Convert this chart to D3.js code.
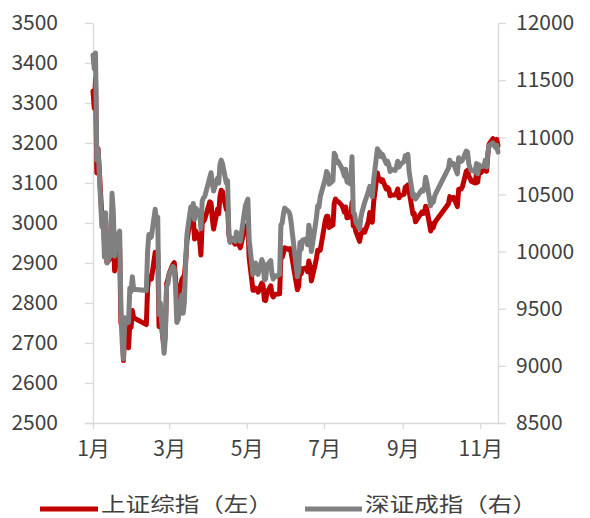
<!DOCTYPE html>
<html><head><meta charset="utf-8">
<script src="https://cdn.jsdelivr.net/npm/d3@7"></script>
<style>
html,body{margin:0;padding:0;background:#fff;}
svg text{font-family:"Noto Sans CJK SC","Liberation Sans",sans-serif;fill:#404040;}
</style></head>
<body><svg id="chart" width="590" height="518"></svg>
<script>
const dates = [
"01-04","01-05","01-06","01-07","01-08","01-11","01-12","01-13","01-14","01-15","01-18","01-19","01-20","01-21","01-22","01-25","01-26","01-27","01-28","01-29",
"02-01","02-02","02-03","02-04","02-05","02-15","02-16","02-17","02-18","02-19","02-22","02-23","02-24","02-25","02-26","02-29",
"03-01","03-02","03-03","03-04","03-07","03-08","03-09","03-10","03-11","03-14","03-15","03-16","03-17","03-18","03-21","03-22","03-23","03-24","03-25","03-28","03-29","03-30","03-31",
"04-01","04-05","04-06","04-07","04-08","04-11","04-12","04-13","04-14","04-15","04-18","04-19","04-20","04-21","04-22","04-25","04-26","04-27","04-28","04-29",
"05-03","05-04","05-05","05-06","05-09","05-10","05-11","05-12","05-13","05-16","05-17","05-18","05-19","05-20","05-23","05-24","05-25","05-26","05-27","05-30","05-31",
"06-01","06-02","06-03","06-06","06-07","06-08","06-13","06-14","06-15","06-16","06-17","06-20","06-21","06-22","06-23","06-24","06-27","06-28","06-29","06-30",
"07-01","07-04","07-05","07-06","07-07","07-08","07-11","07-12","07-13","07-14","07-15","07-18","07-19","07-20","07-21","07-22","07-25","07-26","07-27","07-28","07-29",
"08-01","08-02","08-03","08-04","08-05","08-08","08-09","08-10","08-11","08-12","08-15","08-16","08-17","08-18","08-19","08-22","08-23","08-24","08-25","08-26","08-29","08-30","08-31",
"09-01","09-02","09-05","09-06","09-07","09-08","09-09","09-12","09-13","09-14","09-19","09-20","09-21","09-22","09-23","09-26","09-27","09-28","09-29","09-30",
"10-10","10-11","10-12","10-13","10-14","10-17","10-18","10-19","10-20","10-21","10-24","10-25","10-26","10-27","10-28","10-31",
"11-01","11-02","11-03","11-04","11-07","11-08","11-09","11-10","11-11","11-14","11-15","11-16","11-17","11-18"
];
const shanghai = [
3330,3287,3361,3125,3186,3016,3022,2949,3007,2901,2913,3008,2977,2880,2916,2938,2750,2735,2656,2738,
2688,2749,2739,2781,2763,2746,2836,2867,2862,2860,2927,2903,2928,2741,2767,2688,
2733,2849,2859,2874,2897,2901,2863,2805,2810,2859,2864,2870,2904,2955,3018,2999,3010,2960,2980,2957,2920,3000,3004,
3009,3053,3050,3009,2985,3034,3023,3066,3082,3078,3034,3042,2972,2953,2960,2947,2964,2953,2946,2938,
2992,2991,2997,2913,2832,2832,2837,2835,2827,2850,2843,2807,2806,2826,2843,2821,2815,2822,2822,2823,2917,
2914,2925,2938,2934,2936,2927,2833,2842,2887,2873,2885,2888,2878,2905,2892,2855,2896,2912,2932,2930,
2932,2988,3007,3017,3017,2989,2995,3049,3060,3054,3054,3044,3037,3027,3040,3013,3016,3051,2993,2994,2979,
2954,2971,2979,2982,2977,3004,3026,3018,3002,3050,3125,3110,3110,3104,3108,3085,3089,3085,3068,3070,3070,3075,3085,
3063,3068,3072,3090,3092,3095,3079,3022,3024,3003,3027,3024,3025,3042,3033,2980,2998,2988,2999,3005,
3048,3066,3059,3061,3064,3041,3084,3085,3085,3091,3129,3132,3116,3112,3104,3100,
3122,3102,3129,3125,3133,3148,3129,3171,3197,3211,3207,3206,3209,3193
];
const shenzhen = [
11720,11600,11737,10800,10900,10215,10300,9950,10340,9900,9980,10510,10350,9960,10100,10180,9500,9200,9060,9420,
9380,9680,9650,9780,9670,9660,10000,10150,10120,10130,10370,10250,10300,9450,9550,9110,
9250,9700,9720,9800,9870,9850,9700,9380,9400,9620,9460,9560,9900,10150,10390,10330,10420,10280,10380,10330,10200,10440,10470,
10480,10650,10690,10600,10530,10640,10600,10760,10800,10770,10600,10620,10150,10080,10120,10090,10170,10120,10100,10090,
10400,10430,10460,10100,9800,9850,9900,9870,9800,9930,9900,9750,9760,9880,9920,9800,9760,9790,9780,9800,10230,
10250,10330,10380,10350,10330,10260,9780,9830,10080,10020,10100,10110,10060,10230,10170,10000,10220,10300,10400,10390,
10480,10600,10640,10700,10680,10590,10620,10860,10840,10780,10790,10730,10700,10660,10720,10610,10590,10830,10340,10330,10260,
10200,10300,10350,10390,10430,10530,10570,10520,10480,10620,10900,10880,10870,10830,10850,10770,10790,10760,10700,10720,10710,10740,10790,
10740,10760,10790,10840,10840,10850,10700,10480,10500,10460,10540,10530,10560,10650,10600,10400,10460,10430,10480,10510,
10730,10800,10770,10760,10770,10680,10820,10800,10790,10800,10880,10870,10770,10730,10710,10700,
10770,10680,10760,10740,10750,10800,10740,10860,10930,10950,10930,10910,10930,10870
];
const leftTicks = [2500,2600,2700,2800,2900,3000,3100,3200,3300,3400,3500];
const rightTicks = [8500,9000,9500,10000,10500,11000,11500,12000];
const monthTicks = ["01-04","03-04","05-04","07-04","09-04","11-04"];
const monthLabels = ["1月","3月","5月","7月","9月","11月"];
const seriesNames = ["上证综指（左）","深证成指（右）"];
const seriesColors = ["#c00000","#808080"];

const parse = s => new Date(2016, +s.slice(0,2)-1, +s.slice(3,5));
const svg = d3.select("#chart");
const L = 93, R = 498, T = 23, B = 423;
const x = d3.scaleTime().domain([parse(dates[0]), parse(dates[dates.length-1])]).range([L, R]);
const yL = d3.scaleLinear().domain([2500,3500]).range([B, T]);
const yR = d3.scaleLinear().domain([8500,12000]).range([B, T]);
const axisColor = "#d9d9d9";
const fs = 21;

function styleAxis(g){
  g.select(".domain").attr("stroke", axisColor).attr("stroke-width",1.3);
  g.selectAll(".tick line").attr("stroke", axisColor).attr("stroke-width",1.3);
  g.selectAll("text").attr("font-size", fs).attr("fill","#404040");
}
svg.append("g").attr("transform",`translate(${L},0)`)
  .call(d3.axisLeft(yL).tickValues(leftTicks).tickSize(8).tickSizeOuter(0).tickPadding(27).tickFormat(d3.format("d")))
  .call(styleAxis).call(g=>g.selectAll("text").attr("font-family",null));
svg.append("g").attr("transform",`translate(${R},0)`)
  .call(d3.axisRight(yR).tickValues(rightTicks).tickSize(8).tickSizeOuter(0).tickPadding(10).tickFormat(d3.format("d")))
  .call(styleAxis).call(g=>g.selectAll("text").attr("font-family",null));
const xa = svg.append("g").attr("transform",`translate(0,${B})`)
  .call(d3.axisBottom(x).tickValues(monthTicks.map(parse)).tickSize(6).tickSizeOuter(0).tickPadding(12)
    .tickFormat((d,i)=>monthLabels[i]))
  .call(styleAxis);
xa.select(".domain").attr("d", `M${L-8},0.5H${R+8}`);

const pts = dates.map((d,i)=>({d:parse(d), sh:shanghai[i], sz:shenzhen[i]}));
const lineSH = d3.line().x(p=>x(p.d)).y(p=>yL(p.sh));
const lineSZ = d3.line().x(p=>x(p.d)).y(p=>yR(p.sz));
svg.append("path").datum(pts).attr("d", lineSH).attr("fill","none")
  .attr("stroke", seriesColors[0]).attr("stroke-width",5).attr("stroke-linejoin","round").attr("stroke-linecap","round");
svg.append("path").datum(pts).attr("d", lineSZ).attr("fill","none")
  .attr("stroke", seriesColors[1]).attr("stroke-width",5).attr("stroke-linejoin","round").attr("stroke-linecap","round");

// legend
const leg = svg.append("g");
const legItems = [{x1:40,x2:98,tx:101},{x1:305,x2:362,tx:365}];
legItems.forEach((it,i)=>{
  leg.append("line").attr("x1",it.x1).attr("x2",it.x2).attr("y1",509).attr("y2",509)
    .attr("stroke",seriesColors[i]).attr("stroke-width",5);
  leg.append("text").attr("x",it.tx).attr("y",507).attr("dominant-baseline","middle")
    .attr("font-size",20).attr("textLength",172).attr("lengthAdjust","spacingAndGlyphs").text(seriesNames[i]);
});
</script></body></html>
